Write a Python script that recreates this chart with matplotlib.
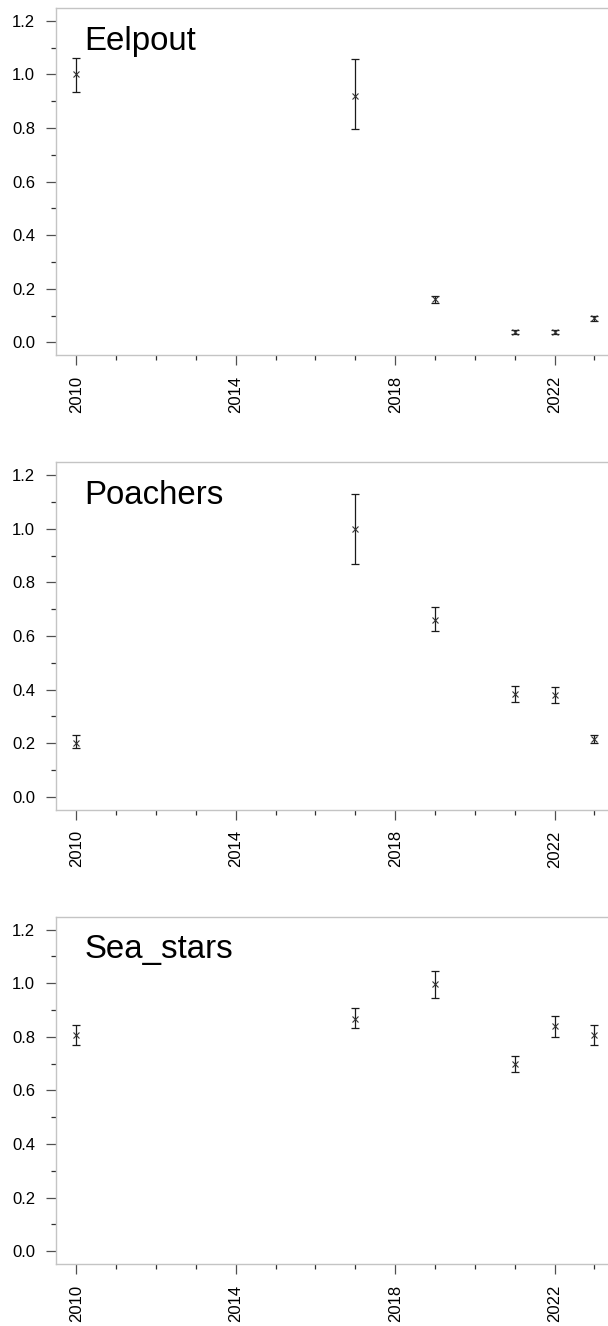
import matplotlib
matplotlib.use("Agg")
import matplotlib.pyplot as plt
from matplotlib.ticker import MultipleLocator, FixedLocator

plt.rcParams['font.family'] = ['Liberation Sans', 'DejaVu Sans']

years = [2010, 2017, 2019, 2021, 2022, 2023]

species = ["Eelpout", "Poachers", "Sea_stars"]

eelpout_mean = [1.000, 0.921, 0.160, 0.039, 0.038, 0.090]
eelpout_low = [0.934, 0.795, 0.148, 0.031, 0.031, 0.080]
eelpout_high = [1.062, 1.056, 0.172, 0.047, 0.045, 0.100]

poachers_mean = [0.202, 1.000, 0.660, 0.382, 0.381, 0.215]
poachers_low = [0.181, 0.870, 0.618, 0.353, 0.348, 0.201]
poachers_high = [0.231, 1.128, 0.708, 0.415, 0.410, 0.229]

seastars_mean = [0.808, 0.868, 0.998, 0.700, 0.839, 0.808]
seastars_low = [0.771, 0.831, 0.946, 0.670, 0.800, 0.771]
seastars_high = [0.843, 0.908, 1.047, 0.729, 0.879, 0.843]

y_major = [0.0, 0.2, 0.4, 0.6, 0.8, 1.0, 1.2]
x_major = [2010, 2014, 2018, 2022]

series = [
    (eelpout_mean, eelpout_low, eelpout_high),
    (poachers_mean, poachers_low, poachers_high),
    (seastars_mean, seastars_low, seastars_high),
]

W, H = 608, 1326
fig = plt.figure(figsize=(W / 100, H / 100), dpi=100)

left_px, right_px = 55.5, 615.2
panel_bottoms_px = [355.2, 809.6, 1264.0]
panel_h_px = 347.3

spine_col = "#c4c4c4"
tick_col = "#505050"

for name, (m, lo, hi), bpx in zip(species, series, panel_bottoms_px):
    ax = fig.add_axes([left_px / W, 1 - bpx / H,
                       (right_px - left_px) / W, panel_h_px / H])
    yerr = [[mi - l for mi, l in zip(m, lo)], [h - mi for mi, h in zip(m, hi)]]
    ax.errorbar(years, m, yerr=yerr, fmt='none', ecolor='#1a1a1a',
                elinewidth=0.9, capsize=2.6, capthick=0.9)
    ax.plot(years, m, linestyle='none', marker='x', color='#333333',
            markersize=5, markeredgewidth=0.8)

    ax.set_xlim(2009.48, 2023.52)
    ax.set_ylim(-0.048, 1.248)

    ax.xaxis.set_major_locator(FixedLocator(x_major))
    ax.xaxis.set_minor_locator(MultipleLocator(1))
    ax.yaxis.set_major_locator(FixedLocator(y_major))
    ax.yaxis.set_minor_locator(MultipleLocator(0.1))
    ax.set_yticklabels([f"{v:.1f}" for v in y_major])
    ax.set_xticklabels([str(v) for v in x_major], rotation=90)

    ax.tick_params(axis='both', which='major', direction='out', length=7.2,
                   width=0.9, color=tick_col, labelsize=12, labelcolor='black')
    ax.tick_params(axis='both', which='minor', direction='out', length=3.6,
                   width=0.9, color='#303030')
    ax.tick_params(axis='y', which='major', pad=7.5)
    ax.tick_params(axis='x', which='major', pad=7.6)

    for s in ax.spines.values():
        s.set_color(spine_col)
        s.set_linewidth(1.0)

    ax.text(0.0518, 0.880, name, transform=ax.transAxes, fontsize=23.8,
            ha='left', va='baseline', color='black')

fig.savefig("out.png", dpi=100)
